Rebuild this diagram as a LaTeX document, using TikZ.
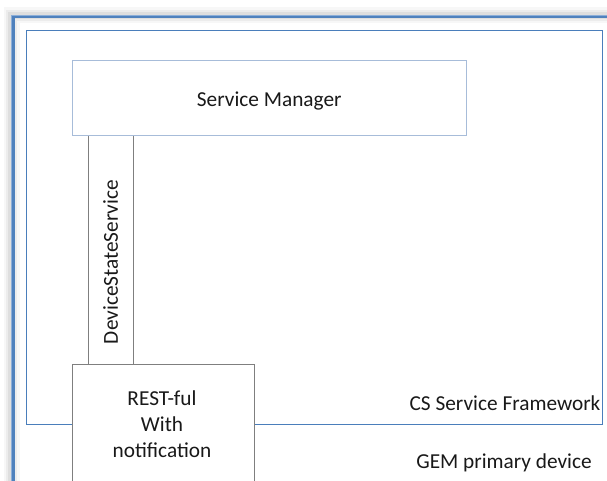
\documentclass[tikz,border=0pt]{standalone}
\usepackage{fontspec}
\setmainfont{Carlito}
\begin{document}
\begin{tikzpicture}[x=1pt,y=-1pt,
  txt/.style={font=\fontsize{21.3}{26.3}\selectfont, text=black!90},
  innerblue/.style={draw={rgb,255:red,74;green,126;blue,187}, line width=1.3pt},
  mgrbox/.style={draw={rgb,255:red,167;green,188;blue,217}, line width=1pt, fill=white},
  graybox/.style={draw={rgb,255:red,127;green,127;blue,127}, line width=1pt, fill=white},
  box/.style={rectangle, inner sep=0pt, anchor=north west},
]
\useasboundingbox (0,0) rectangle (607,481);
\clip (0,0) rectangle (607,481);
\definecolor{edgeblue}{RGB}{79,129,189}
\definecolor{lightblue}{RGB}{140,174,216}

% soft glow around the device frame
\foreach \w/\o in {16/0.03,11/0.045,7/0.06}
  \draw[line width=\w pt, black, opacity=\o] (11.5,700) -- (11.5,15.5) -- (700,15.5);

% GEM primary device frame
\node[box, draw=edgeblue, line width=3pt, minimum width=700pt, minimum height=700pt] (device) at (11.5,15.5) {};
\draw[lightblue, line width=0.9pt] (device.south west) -- (device.north west) -- (device.north east);

% CS Service Framework frame
\node[box, innerblue, minimum width=576pt, minimum height=394pt] (framework) at (26,30) {};

% DeviceStateService interface strip
\node[box, graybox, minimum width=45pt, minimum height=228pt] (dss) at (87.5,135.5) {};
\node[txt, rotate=90] (dsslabel) at ([yshift=-12pt]dss.center) {DeviceStateService};

% Service Manager
\node[box, mgrbox, minimum width=394.5pt, minimum height=75pt] (manager) at (71.5,60.5) {};
\node[txt] (managerlabel) at ([yshift=-2.5pt]manager.center) {Service Manager};

% REST-ful endpoint
\node[box, graybox, minimum width=182pt, minimum height=140pt] (rest) at (71.5,363.5) {};
\node[txt, align=center] (restlabel) at (162,424) {REST-ful\\With\\notification};

% container captions
\node[txt] (fwlabel) at (505,403) {CS Service Framework};
\node[txt] (devlabel) at (504,463) {GEM primary device};
\end{tikzpicture}
\end{document}
